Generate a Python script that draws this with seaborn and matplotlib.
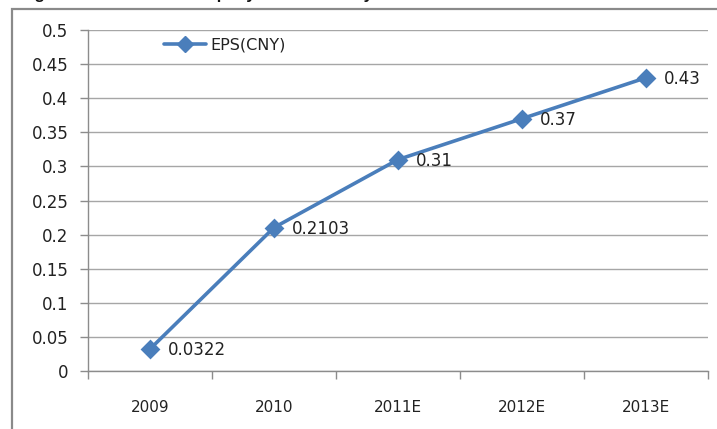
import matplotlib
matplotlib.use("Agg")
import matplotlib.pyplot as plt
import seaborn as sns
import pandas as pd
from matplotlib.patches import Rectangle
from matplotlib.lines import Line2D

years = ["2009", "2010", "2011E", "2012E", "2013E"]
eps = [0.0322, 0.2103, 0.31, 0.37, 0.43]
eps_labels = ["0.0322", "0.2103", "0.31", "0.37", "0.43"]
y_ticks = [0, 0.05, 0.1, 0.15, 0.2, 0.25, 0.3, 0.35, 0.4, 0.45, 0.5]
y_tick_labels = ["0", "0.05", "0.1", "0.15", "0.2", "0.25", "0.3", "0.35", "0.4", "0.45", "0.5"]
series_name = "EPS(CNY)"
title_text = "Figure 4: EPS of the company in the recent years"

W, H = 717, 429
sns.set_theme(style="white")
plt.rcParams["font.family"] = ["DejaVu Sans"]

fig = plt.figure(figsize=(W / 100, H / 100), dpi=100)
ax = fig.add_axes([88 / W, 1 - 371 / H, (708 - 88) / W, (371 - 30) / H])

df = pd.DataFrame({"year": years, "eps": eps})
blue = "#4a7ebb"
sns.pointplot(data=df, x="year", y="eps", order=years, color=blue, markers="D",
              linewidth=2.6, markersize=8.5, ax=ax)

ax.set_xlim(-0.5, len(years) - 0.5)
ax.set_ylim(0, 0.5)
ax.set_yticks(y_ticks)
ax.set_yticklabels(y_tick_labels)
ax.set_xlabel("")
ax.set_ylabel("")
ax.yaxis.grid(True, color="#a6a6a6", linewidth=1.0)
ax.set_axisbelow(True)

# x tick marks at category boundaries
ax.set_xticks(range(len(years)))
ax.set_xticklabels(years)
ax.set_xticks([i - 0.5 for i in range(len(years) + 1)], minor=True)
ax.tick_params(axis="x", which="major", length=0, pad=21, labelsize=11, labelcolor="#222222")
ax.tick_params(axis="x", which="minor", length=6, width=1.0, color="#8c8c8c", direction="out", bottom=True)
ax.tick_params(axis="y", which="major", length=6, width=1.0, color="#8c8c8c", direction="out",
               left=True, pad=8, labelsize=12, labelcolor="#222222")

for s in ["top", "right"]:
    ax.spines[s].set_visible(False)
for s in ["left", "bottom"]:
    ax.spines[s].set_color("#8c8c8c")
    ax.spines[s].set_linewidth(1.0)

for i, (v, lab) in enumerate(zip(eps, eps_labels)):
    ax.annotate(lab, xy=(i, v), xytext=(18, -1), textcoords="offset pixels",
                ha="left", va="center", fontsize=12, color="#222222")

handle = Line2D([0], [0], color=blue, linewidth=2.6, marker="D", markersize=8.5)
ax.legend([handle], [series_name], loc="upper left", bbox_to_anchor=(0.1, 1.02),
          frameon=False, fontsize=11.5, handlelength=2.6, handletextpad=0.3,
          labelcolor="#222222")

# outer chart border
fig.patches.append(Rectangle((12 / W, -0.05), 1.2, 1 - 9 / H + 0.05, transform=fig.transFigure,
                             fill=False, edgecolor="#8a8a8a", linewidth=1.6))

# caption at the very top, clipped by the edge as in the reference
fig.text(20 / W, 1 + 0.5 / H, title_text, ha="left", va="baseline",
         fontsize=12, fontweight="bold", family=["Liberation Sans"], color="#111111")

fig.savefig("out.png", dpi=100)
